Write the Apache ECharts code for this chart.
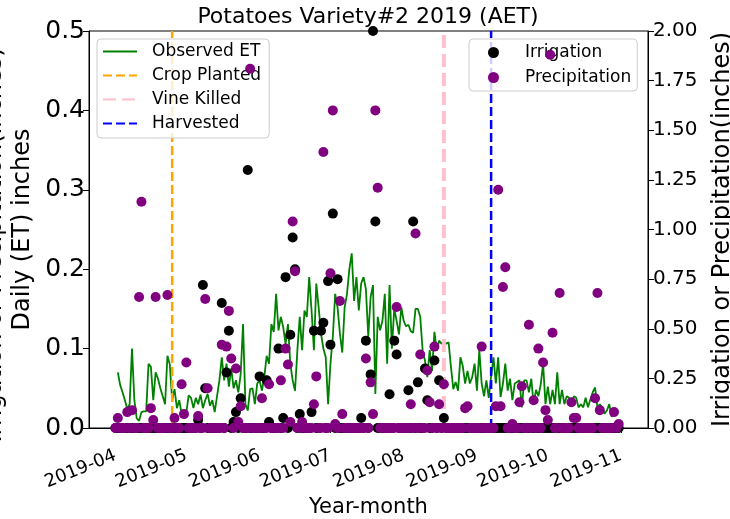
<!DOCTYPE html>
<html>
<head>
<meta charset="utf-8">
<title>Potatoes Variety#2 2019 (AET)</title>
<script src="https://cdn.jsdelivr.net/npm/echarts@6/dist/echarts.min.js"></script>
<style>
  html, body { margin: 0; padding: 0; background: #fff; }
  #chart { width: 730px; height: 519px; }
</style>
</head>
<body>
<div id="chart"></div>
<script>
// observed daily ET (inches), one value per day from etStart
const etStart = '2019-04-02'
const etApr = [0.070, 0.054, 0.045, 0.035, 0.024, 0.030, 0.100, 0.035, 0.012, 0.009, 0.020, 0.021, 0.021, 0.081, 0.077,
  0.035, 0.070, 0.062, 0.050, 0.040, 0.030, 0.091, 0.080, 0.035, 0.049, 0.025, 0.035, 0.018, 0.012]
const etMay = [0.020, 0.041, 0.038, 0.025, 0.038, 0.030, 0.042, 0.025, 0.035, 0.043, 0.028, 0.035, 0.020, 0.040, 0.060,
  0.089, 0.060, 0.081, 0.052, 0.075, 0.050, 0.060, 0.045, 0.068, 0.131, 0.030, 0.022, 0.049, 0.050, 0.030, 0.056]
const etJun = [0.060, 0.047, 0.064, 0.091, 0.081, 0.131, 0.121, 0.169, 0.123, 0.140, 0.127, 0.106, 0.131, 0.081, 0.060,
  0.047, 0.098, 0.140, 0.098, 0.148, 0.140, 0.190, 0.148, 0.098, 0.182, 0.152, 0.119, 0.100, 0.089, 0.030]
const etJul = [0.081, 0.115, 0.169, 0.152, 0.119, 0.095, 0.152, 0.169, 0.200, 0.220, 0.160, 0.190, 0.148, 0.182, 0.190,
  0.175, 0.115, 0.165, 0.180, 0.043, 0.140, 0.123, 0.135, 0.169, 0.081, 0.180, 0.100, 0.150, 0.135, 0.118, 0.152]
const etAug = [0.135, 0.128, 0.130, 0.122, 0.120, 0.150, 0.150, 0.140, 0.098, 0.085, 0.064, 0.098, 0.072, 0.121, 0.098,
  0.110, 0.106, 0.108, 0.106, 0.108, 0.077, 0.049, 0.058, 0.047, 0.089, 0.078, 0.056, 0.072, 0.056, 0.064, 0.081]
const etSep = [0.047, 0.098, 0.056, 0.040, 0.060, 0.038, 0.065, 0.089, 0.056, 0.089, 0.039, 0.056, 0.081, 0.047, 0.062,
  0.035, 0.056, 0.058, 0.060, 0.026, 0.060, 0.060, 0.045, 0.062, 0.030, 0.048, 0.040, 0.055, 0.081, 0.030]
const etOct = [0.052, 0.030, 0.048, 0.030, 0.070, 0.030, 0.048, 0.030, 0.040, 0.038, 0.030, 0.040, 0.038, 0.026, 0.030,
  0.026, 0.038, 0.026, 0.036, 0.045, 0.051, 0.026, 0.030, 0.026, 0.018, 0.022, 0.030, 0.014, 0.020]

const plantDate = '2019-04-25'
const vineKillDate = '2019-08-18'
const harvestDate = '2019-09-07'

// non-zero gauge readings (inches); every other day in the record reads 0
const recordStart = '2019-04-01'
const recordEnd = '2019-10-31'
const irrigationDates = ['2019-05-06', '2019-05-08', '2019-05-09', '2019-05-16', '2019-05-18', '2019-05-19', '2019-05-21',
  '2019-05-22', '2019-05-24', '2019-05-27', '2019-06-01', '2019-06-04', '2019-06-05', '2019-06-09', '2019-06-11',
  '2019-06-12', '2019-06-14', '2019-06-15', '2019-06-16', '2019-06-18', '2019-06-23', '2019-06-24', '2019-06-27',
  '2019-06-28', '2019-06-30', '2019-07-01', '2019-07-02', '2019-07-04', '2019-07-14', '2019-07-16', '2019-07-18',
  '2019-07-19', '2019-07-20', '2019-07-26', '2019-07-28', '2019-07-29', '2019-08-03', '2019-08-05', '2019-08-07',
  '2019-08-10', '2019-08-11', '2019-08-14', '2019-08-16', '2019-08-18']
const irrigationVals = [0.04, 0.72, 0.20, 0.63, 0.28, 0.49, 0.03,
  0.08, 0.15, 1.30, 0.26, 0.24, 0.03, 0.40, 0.05,
  0.76, 0.47, 0.96, 0.80, 0.07, 0.08, 0.49, 0.49,
  0.53, 0.74, 0.42, 1.08, 0.75, 0.05, 0.44, 0.27,
  2.00, 1.04, 0.17, 0.44, 0.37, 0.19, 1.04, 0.23,
  0.30, 0.14, 0.34, 0.24, 0.05]
const precipDates = ['2019-04-02', '2019-04-06', '2019-04-08', '2019-04-11', '2019-04-12', '2019-04-16', '2019-04-17',
  '2019-04-18', '2019-04-23', '2019-04-26', '2019-04-29', '2019-04-30', '2019-05-01', '2019-05-06', '2019-05-09',
  '2019-05-10', '2019-05-16', '2019-05-18', '2019-05-19', '2019-05-20', '2019-05-22', '2019-05-23', '2019-05-24',
  '2019-05-28', '2019-06-02', '2019-06-05', '2019-06-10', '2019-06-12', '2019-06-13', '2019-06-14', '2019-06-15',
  '2019-06-16', '2019-06-19', '2019-06-24', '2019-06-25', '2019-06-28', '2019-07-01', '2019-07-02', '2019-07-03',
  '2019-07-05', '2019-07-06', '2019-07-16', '2019-07-18', '2019-07-19', '2019-07-20', '2019-07-21', '2019-07-29',
  '2019-08-04', '2019-08-06', '2019-08-08', '2019-08-11', '2019-08-12', '2019-08-14', '2019-08-16', '2019-08-18',
  '2019-08-27', '2019-08-28', '2019-09-03', '2019-09-09', '2019-09-10', '2019-09-11', '2019-09-12', '2019-09-13',
  '2019-09-16', '2019-09-19', '2019-09-20', '2019-09-23', '2019-09-25', '2019-09-27', '2019-09-29', '2019-09-30',
  '2019-10-01', '2019-10-02', '2019-10-03', '2019-10-06', '2019-10-11', '2019-10-12', '2019-10-13', '2019-10-21',
  '2019-10-22', '2019-10-23', '2019-10-29', '2019-10-31']
const precipVals = [0.05, 0.08, 0.09, 0.66, 1.14, 0.10, 0.04,
  0.66, 0.67, 0.05, 0.22, 0.07, 0.33, 0.06, 0.65,
  0.20, 0.42, 0.41, 0.59, 0.35, 0.30, 0.03, 0.11,
  1.81, 0.15, 0.22, 0.24, 0.40, 0.32, 0.03, 1.04,
  0.79, 0.03, 0.12, 0.26, 1.39, 0.78, 1.60, 0.02,
  0.64, 0.07, 0.35, 0.23, 0.07, 1.60, 1.21, 0.61,
  0.12, 0.98, 0.37, 0.29, 0.13, 0.41, 0.12, 0.22,
  0.10, 0.11, 0.41, 0.11, 1.20, 0.11, 0.71, 0.81,
  0.02, 0.13, 0.21, 0.52, 0.14, 0.40, 0.33, 0.09,
  0.04, 1.88, 0.48, 0.68, 0.13, 0.05, 0.05, 0.15,
  0.68, 0.09, 0.08, 0.02]

const monthTicks = ['2019-04-01', '2019-05-01', '2019-06-01', '2019-07-01', '2019-08-01', '2019-09-01',
  '2019-10-01', '2019-11-01']

const FONT = 'DejaVu Sans'
const DAY = 86400000

function toTime(s) {
  const [y, m, d] = s.split('-').map(Number)
  return new Date(y, m - 1, d).getTime()
}
function addDays(s, n) {
  const [y, m, d] = s.split('-').map(Number)
  return new Date(y, m - 1, d + n).getTime()
}
function monthLabel(t) {
  const d = new Date(t)
  return d.getFullYear() + '-' + String(d.getMonth() + 1).padStart(2, '0')
}
function daily(dates, vals) {
  const hit = new Map(dates.map((s, i) => [toTime(s), vals[i]]))
  const n = Math.round((toTime(recordEnd) - toTime(recordStart)) / DAY)
  const out = []
  for (let i = 0; i <= n; i++) {
    const t = addDays(recordStart, i)
    out.push([t, hit.has(t) ? hit.get(t) : 0])
  }
  return out
}
function vline(s) {
  return [[toTime(s), 0], [toTime(s), 0.5]]
}

const etVals = [].concat(etApr, etMay, etJun, etJul, etAug, etSep, etOct)
const etData = etVals.map((v, i) => [addDays(etStart, i), v])
const tickTimes = monthTicks.map(toTime)

const chart = echarts.init(document.getElementById('chart'))
const black = '#000'

chart.setOption({
  animation: false,
  textStyle: { fontFamily: FONT },
  title: {
    text: 'Potatoes Variety#2 2019 (AET)',
    left: 368,
    textAlign: 'center',
    top: 6,
    padding: 0,
    textStyle: { fontFamily: FONT, fontSize: 22, fontWeight: 'normal', color: black }
  },
  grid: {
    left: 89, right: 82, top: 31, bottom: 91,
    outerBoundsMode: 'none',
    containLabel: false,
    show: true, borderColor: black, borderWidth: 1
  },
  xAxis: {
    // dates as epoch ms on a plain value axis, month ticks placed explicitly
    type: 'value',
    min: toTime(recordStart) - 11.2 * DAY,
    max: toTime(recordStart) + 225.4 * DAY,
    name: 'Year-month',
    nameLocation: 'middle',
    nameGap: 68,
    nameTextStyle: { fontFamily: FONT, fontSize: 21, color: black },
    axisLine: { lineStyle: { color: black, width: 1 } },
    axisTick: { customValues: tickTimes, length: 5, lineStyle: { color: black } },
    axisLabel: {
      customValues: tickTimes,
      formatter: v => monthLabel(v),
      rotate: 22,
      margin: 27,
      fontFamily: FONT,
      fontSize: 18,
      color: black
    },
    splitLine: { show: false }
  },
  yAxis: [
    {
      type: 'value',
      min: 0,
      max: 0.5,
      interval: 0.1,
      position: 'left',
      name: 'Daily (ET) inches',
      nameLocation: 'middle',
      nameRotate: 90,
      nameGap: 52,
      nameTextStyle: { fontFamily: FONT, fontSize: 24, color: black },
      axisLine: { show: true, lineStyle: { color: black } },
      axisTick: { show: true, length: 6, lineStyle: { color: black } },
      axisLabel: { formatter: v => v.toFixed(1), fontFamily: FONT, fontSize: 25, color: black, margin: 4 },
      splitLine: { show: false }
    },
    {
      type: 'value',
      min: 0,
      max: 2,
      interval: 0.25,
      position: 'right',
      name: 'Irrigation or Precipitation(inches)',
      nameLocation: 'middle',
      nameRotate: 90,
      nameGap: 63,
      nameTextStyle: { fontFamily: FONT, fontSize: 24, color: black },
      axisLine: { show: true, lineStyle: { color: black } },
      axisTick: { show: true, length: 6, lineStyle: { color: black } },
      axisLabel: { formatter: v => v.toFixed(2), fontFamily: FONT, fontSize: 20, color: black, margin: 5 },
      splitLine: { show: false }
    }
  ],
  legend: [
    {
      data: ['Observed ET', 'Crop Planted', 'Vine Killed', 'Harvested'],
      orient: 'vertical',
      left: 97,
      top: 39,
      padding: [4, 8, 6, 5],
      itemGap: 7,
      itemWidth: 34,
      itemHeight: 14,
      itemStyle: { opacity: 0 },
      backgroundColor: 'rgba(255,255,255,0.8)',
      borderColor: '#cccccc',
      borderWidth: 1,
      borderRadius: 4,
      z: 3,
      formatter: '{t|{name}}',
      textStyle: { color: black, fontFamily: FONT, fontSize: 17, rich: { t: { fontFamily: FONT, fontSize: 17, padding: [0, 0, 0, 10] } } }
    },
    {
      data: ['Irrigation', 'Precipitation'],
      orient: 'vertical',
      left: 469,
      top: 39,
      padding: [5, 6, 5, 19],
      itemGap: 8,
      itemWidth: 11,
      itemHeight: 11,
      backgroundColor: 'rgba(255,255,255,0.8)',
      borderColor: '#cccccc',
      borderWidth: 1,
      borderRadius: 4,
      z: 6,
      formatter: '{t|{name}}',
      textStyle: { color: black, fontFamily: FONT, fontSize: 17, rich: { t: { fontFamily: FONT, fontSize: 17, padding: [0, 0, 0, 21] } } }
    }
  ],
  graphic: [
    {
      // the twin axis label also lands at the far left, mostly off the canvas
      type: 'text',
      x: 7,
      y: 245,
      rotation: Math.PI / 2,
      silent: true,
      style: {
        text: 'Irrigation or Precipitation(inches)',
        font: '24px "DejaVu Sans"',
        fill: black,
        align: 'center',
        verticalAlign: 'bottom'
      }
    }
  ],
  series: [
    {
      name: 'Observed ET',
      type: 'line',
      yAxisIndex: 0,
      data: etData,
      symbol: 'none',
      z: 2,
      lineStyle: { color: '#008000', width: 1.8 },
      itemStyle: { color: '#008000' }
    },
    {
      name: 'Crop Planted',
      type: 'line',
      yAxisIndex: 0,
      data: vline(plantDate),
      symbol: 'none',
      z: 2,
      lineStyle: { color: '#ffa500', width: 2.5, type: [9, 4] },
      itemStyle: { color: '#ffa500' }
    },
    {
      name: 'Vine Killed',
      type: 'line',
      yAxisIndex: 0,
      data: vline(vineKillDate),
      symbol: 'none',
      z: 2,
      lineStyle: { color: '#ffc0cb', width: 4, type: [13, 6] },
      itemStyle: { color: '#ffc0cb' }
    },
    {
      name: 'Harvested',
      type: 'line',
      yAxisIndex: 0,
      data: vline(harvestDate),
      symbol: 'none',
      z: 2,
      lineStyle: { color: '#0000ff', width: 2.5, type: [9, 4] },
      itemStyle: { color: '#0000ff' }
    },
    {
      name: 'Irrigation',
      type: 'scatter',
      yAxisIndex: 1,
      data: daily(irrigationDates, irrigationVals),
      symbolSize: 10,
      z: 4,
      itemStyle: { color: black, opacity: 1 }
    },
    {
      name: 'Precipitation',
      type: 'scatter',
      yAxisIndex: 1,
      data: daily(precipDates, precipVals),
      symbolSize: 10,
      z: 10,
      itemStyle: { color: '#800080', opacity: 1 }
    }
  ]
})

window.addEventListener('resize', () => chart.resize())
</script>
</body>
</html>
